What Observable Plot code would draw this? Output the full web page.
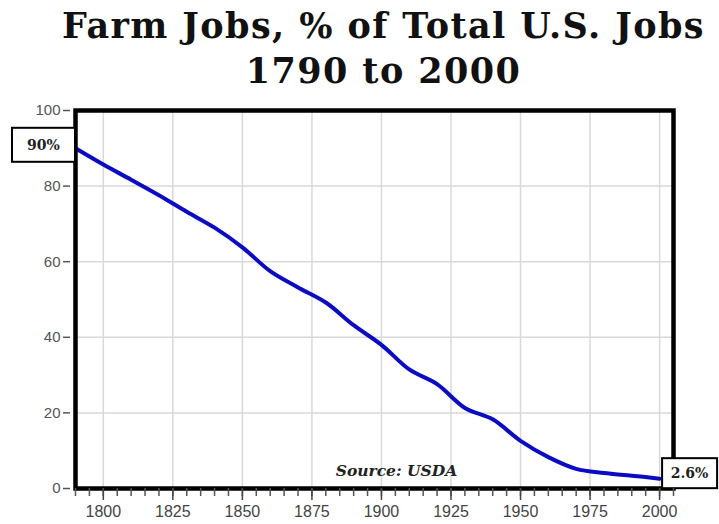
<!DOCTYPE html>
<html>
<head>
<meta charset="utf-8">
<script src="https://cdn.jsdelivr.net/npm/d3@7"></script>
<script src="https://cdn.jsdelivr.net/npm/@observablehq/plot@0.6"></script>
<style>
  body { margin: 0; background: #fff; width: 719px; height: 524px; overflow: hidden; }
  #title { position: relative; height: 95px; font-family: "DejaVu Serif", serif; font-weight: bold; color: #111; }
  #title div { position: absolute; left: 48px; right: 0; text-align: center; font-size: 35px; line-height: 35px; letter-spacing: 1.4px; white-space: nowrap; }
  #t1 { top: 8px; }
  #t2 { top: 53px; }
</style>
</head>
<body>
<div id="title"><div id="t1">Farm Jobs, % of Total U.S. Jobs</div><div id="t2">1790 to 2000</div></div>
<div id="chart"></div>
<script>
// Data
const years = [1790, 1800, 1810, 1820, 1830, 1840, 1850, 1860, 1870, 1880, 1890, 1900,
               1910, 1920, 1930, 1940, 1950, 1960, 1970, 1980, 1990, 2000];
const farmShare = [90, 85.7, 81.7, 77.6, 73.2, 69, 63.8, 57.5, 53.2, 49.2, 43.2, 38,
                   31.5, 27.6, 21.3, 18.3, 12.6, 8.3, 5.2, 4.1, 3.4, 2.6];
const xTicks = [1800, 1825, 1850, 1875, 1900, 1925, 1950, 1975, 2000];
const xMinorTicks = [1790, 1795, 1800, 1805, 1810, 1815, 1820, 1825, 1830, 1835, 1840, 1845, 1850,
                     1855, 1860, 1865, 1870, 1875, 1880, 1885, 1890, 1895, 1900, 1905, 1910, 1915,
                     1920, 1925, 1930, 1935, 1940, 1945, 1950, 1955, 1960, 1965, 1970, 1975, 1980,
                     1985, 1990, 1995, 2000, 2005];
const yTicks = [0, 20, 40, 60, 80, 100];
const yGrid = [20, 40, 60, 80];
const sourceLabel = "Source: USDA";
const callouts = [
  {year: 1790, value: 90, text: "90%", side: "left"},
  {year: 2000, value: 2.6, text: "2.6%", side: "right"}
];

const table = years.map((y, i) => ({year: y, share: farmShare[i]}));

// Boxed callout labels positioned through the scales
function calloutMark(index, scales) {
  const g = d3.create("svg:g");
  for (const c of callouts) {
    const px = scales.x(c.year), py = scales.y(c.value);
    const w = c.side === "left" ? 63 : 55;
    const h = c.side === "left" ? 34 : 30;
    const bx = c.side === "left" ? px - w : px + 3;
    const by = py - 20;
    g.append("rect").attr("x", bx).attr("y", by).attr("width", w).attr("height", h)
      .attr("fill", "white").attr("stroke", "black").attr("stroke-width", 2);
    g.append("text").attr("x", bx + w / 2).attr("y", by + h / 2).attr("dy", "0.35em")
      .attr("text-anchor", "middle").attr("font-family", "DejaVu Serif, serif")
      .attr("font-weight", "bold").attr("font-size", 14).attr("fill", "#222").text(c.text);
  }
  return g.node();
}

const chart = Plot.plot({
  width: 719,
  height: 429,
  marginTop: 15,
  marginBottom: 36,
  marginLeft: 75,
  marginRight: 46,
  style: {display: "block", background: "white", fontFamily: "Liberation Sans, Arial, sans-serif"},
  x: {domain: [1790, 2005]},
  y: {domain: [0, 100]},
  marks: [
    Plot.gridX(xTicks, {stroke: "#d9d9d9", strokeOpacity: 1, strokeWidth: 1.5}),
    Plot.gridY(yGrid, {stroke: "#d9d9d9", strokeOpacity: 1, strokeWidth: 1.5}),
    Plot.line(table, {x: "year", y: "share", stroke: "#0b0bc4", strokeWidth: 4, curve: "catmull-rom"}),
    Plot.frame({stroke: "black", strokeWidth: 4.5}),
    Plot.text([sourceLabel], {frameAnchor: "bottom", dx: 22, dy: -13, fontFamily: "DejaVu Serif, serif",
      fontWeight: "bold", fontStyle: "italic", fontSize: 15.5, fill: "#222"}),
    calloutMark,
    Plot.axisY(yTicks, {tickSize: 7, dx: -5, tickPadding: 3, fontSize: 15, color: "#555", tickFormat: "d", strokeWidth: 1.5, label: null}),
    Plot.axisX(xMinorTicks, {tickSize: 8, tickFormat: () => "", color: "#555", strokeWidth: 1.5, label: null}),
    Plot.axisX(xTicks, {tickSize: 12, tickPadding: 5, fontSize: 16, color: "#444", tickFormat: "d", strokeWidth: 1.5, label: null})
  ]
});
document.getElementById("chart").appendChild(chart);
</script>
</body>
</html>
